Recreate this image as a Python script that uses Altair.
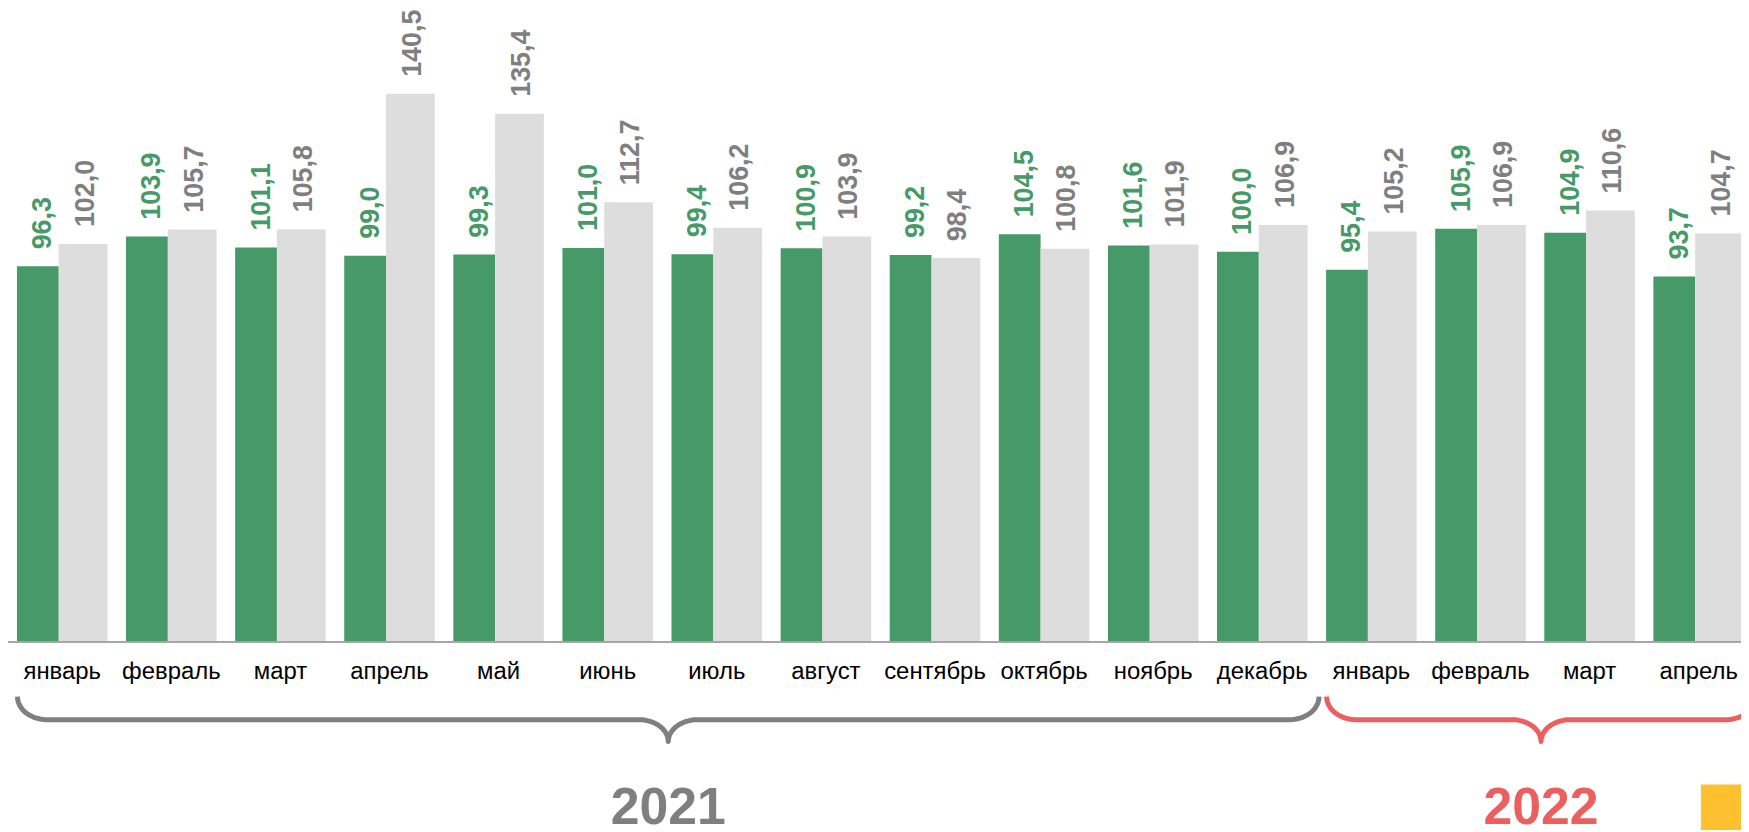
import numpy as np
import pandas as pd
import altair as alt

# ---------------- data ----------------
months = ["январь", "февраль", "март", "апрель", "май", "июнь", "июль", "август",
          "сентябрь", "октябрь", "ноябрь", "декабрь", "январь", "февраль", "март", "апрель"]
series_a = [96.3, 103.9, 101.1, 99.0, 99.3, 101.0, 99.4, 100.9, 99.2, 104.5, 101.6, 100.0,
            95.4, 105.9, 104.9, 93.7]
series_b = [102.0, 105.7, 105.8, 140.5, 135.4, 112.7, 106.2, 103.9, 98.4, 100.8, 101.9, 106.9,
            105.2, 106.9, 110.6, 104.7]
years = ["2021", "2022"]
year_first = [0, 12]
year_last = [11, 15]
year_colors = ["#7F7F7F", "#EB5F5F"]

GREEN = "#469A67"
LIGHT = "#DDDDDD"
GREYTXT = "#7F7F7F"
FONT = "Liberation Sans"

n = len(months)
idx = np.arange(n)

xscale = alt.Scale(domain=[-0.497, 15.388], nice=False, zero=False)
yscale = alt.Scale(domain=[-48.2, 162], nice=False, zero=False)


def fmt(v):
    return f"{v:.1f}".replace(".", ",")


bars = pd.DataFrame({
    "series": ["a"] * n + ["b"] * n,
    "x0": list(idx - 0.415) + list(idx - 0.032),
    "x1": list(idx - 0.032) + list(idx + 0.415),
    "lx": list(idx - 0.173) + list(idx + 0.214),
    "value": series_a + series_b,
    "label": [fmt(v) for v in series_a] + [fmt(v) for v in series_b],
    "zero": [0.0] * (2 * n),
    "barcol": [GREEN] * n + [LIGHT] * n,
    "txtcol": [GREEN] * n + [GREYTXT] * n,
})

bar_layer = alt.Chart(bars).mark_bar(cornerRadius=0).encode(
    x=alt.X("x0:Q", scale=xscale, axis=None),
    x2="x1:Q",
    y=alt.Y("zero:Q", scale=yscale, axis=None),
    y2="value:Q",
    color=alt.Color("barcol:N", scale=None, legend=None),
)

label_layer = alt.Chart(bars).mark_text(
    angle=270, align="left", baseline="middle", dx=17,
    font=FONT, fontSize=27, fontWeight="bold",
).encode(
    x=alt.X("lx:Q", scale=xscale, axis=None),
    y=alt.Y("value:Q", scale=yscale, axis=None),
    text="label:N",
    color=alt.Color("txtcol:N", scale=None, legend=None),
)

base_rule = alt.Chart(pd.DataFrame({"y": [0.0]})).mark_rule(
    color="#A6A6A6", strokeWidth=2
).encode(y=alt.Y("y:Q", scale=yscale, axis=None))

month_df = pd.DataFrame({"x": idx.astype(float), "m": months, "y": [-9.4] * n})
month_layer = alt.Chart(month_df).mark_text(
    align="center", baseline="alphabetic", font=FONT, fontSize=24, color="#000000"
).encode(
    x=alt.X("x:Q", scale=xscale, axis=None),
    y=alt.Y("y:Q", scale=yscale, axis=None),
    text="m:N",
)

# ---------------- braces ----------------
Y_TOP, Y_MID, Y_TIP = -14.0, -19.9, -25.5
RX_END, RX_TIP = 0.27, 0.27
t = np.linspace(0, np.pi / 2, 14)

rows = []
tips = []
for yr, f, l, c in zip(years, year_first, year_last, year_colors):
    x0 = f - 0.41
    x1 = l + 0.52
    xt = (x0 + x1) / 2
    tips.append(xt)
    ry_end = Y_TOP - Y_MID
    ry_tip = Y_MID - Y_TIP
    pts = []
    cx, cy = x0 + RX_END, Y_MID + ry_end
    pts += list(zip(cx - RX_END * np.cos(t), cy - ry_end * np.sin(t)))
    cx, cy = xt - RX_TIP, Y_MID - ry_tip
    pts += list(zip(cx + RX_TIP * np.sin(t), cy + ry_tip * np.cos(t)))
    cx, cy = xt + RX_TIP, Y_MID - ry_tip
    pts += list(zip(cx - RX_TIP * np.cos(t), cy + ry_tip * np.sin(t)))
    cx, cy = x1 - RX_END, Y_MID + ry_end
    pts += list(zip(cx + RX_END * np.sin(t), cy - ry_end * np.cos(t)))
    for k, (px, py) in enumerate(pts):
        rows.append({"year": yr, "k": k, "x": px, "y": py, "col": c})

brace_df = pd.DataFrame(rows)
brace_layer = alt.Chart(brace_df).mark_line(
    strokeWidth=5, strokeCap="butt", strokeJoin="round", clip=True, interpolate="linear"
).encode(
    x=alt.X("x:Q", scale=xscale, axis=None),
    y=alt.Y("y:Q", scale=yscale, axis=None),
    order="k:Q",
    detail="year:N",
    color=alt.Color("col:N", scale=None, legend=None),
)

year_df = pd.DataFrame({"year": years, "x": tips, "y": [-46.6, -46.6], "col": year_colors})
year_layer = alt.Chart(year_df).mark_text(
    align="center", baseline="alphabetic", font=FONT, fontSize=52, fontWeight="bold"
).encode(
    x=alt.X("x:Q", scale=xscale, axis=None),
    y=alt.Y("y:Q", scale=yscale, axis=None),
    text="year:N",
    color=alt.Color("col:N", scale=None, legend=None),
)

# page badge (partially visible at the corner)
badge_df = pd.DataFrame({"x0": [15.02], "x1": [15.7], "y0": [-36.5], "y1": [-55.0]})
badge_layer = alt.Chart(badge_df).mark_rect(color="#FDC02F", clip=True).encode(
    x=alt.X("x0:Q", scale=xscale, axis=None),
    x2="x1:Q",
    y=alt.Y("y0:Q", scale=yscale, axis=None),
    y2="y1:Q",
)

chart = alt.layer(
    bar_layer, base_rule, label_layer, month_layer, brace_layer, year_layer, badge_layer
).properties(
    width=1741, height=824, padding=0, autosize="none", background="white"
).configure_view(stroke=None)

chart.save("out.html", embed_options={"renderer": "svg", "actions": False})
